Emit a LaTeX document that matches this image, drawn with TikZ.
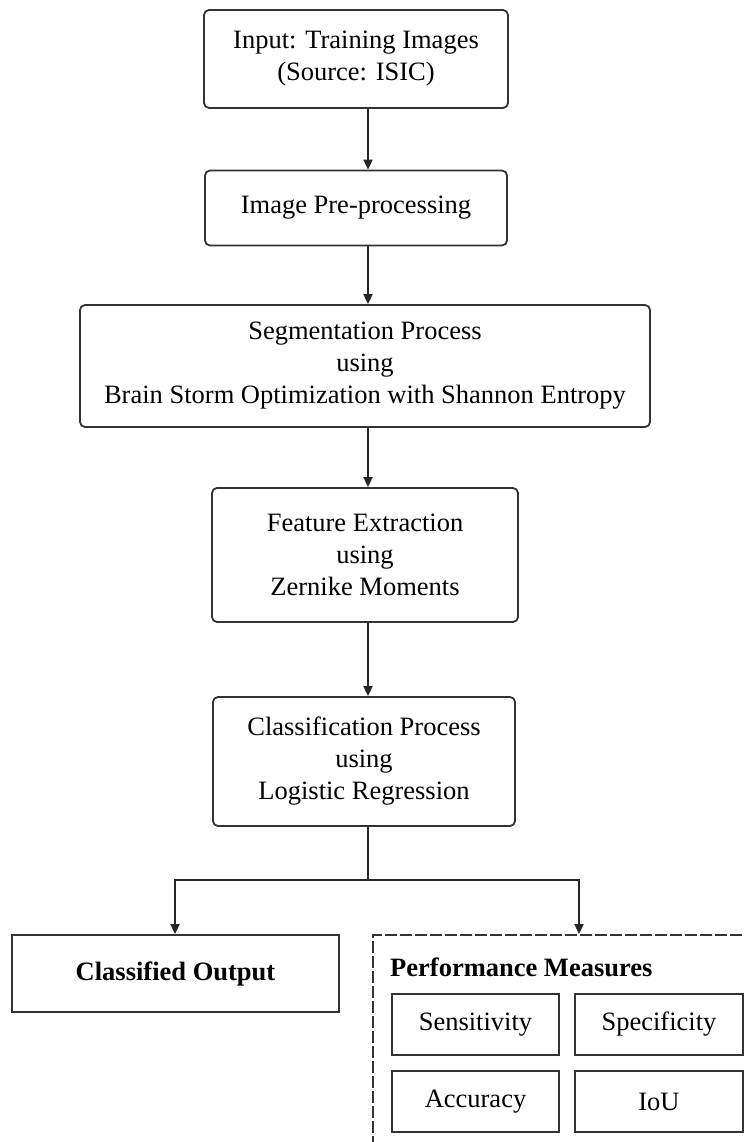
\documentclass[tikz,border=0pt]{standalone}
\usepackage{fontspec}
\setmainfont{Liberation Serif}
\usetikzlibrary{arrows.meta}
\begin{document}
\begin{tikzpicture}[x=1pt,y=-1pt,
  box/.style={draw=black!80, line width=1.8pt, rounded corners=5pt, align=center, inner sep=0pt, font=\fontsize{26.5}{32}\selectfont},
  sbox/.style={draw=black!80, line width=1.8pt, align=center, inner sep=0pt, font=\fontsize{26.5}{32}\selectfont},
  dbox/.style={draw=black!80, line width=1.8pt, dash pattern=on 12pt off 3pt, inner sep=0pt},
  arr/.style={line width=1.8pt, draw=black!85, -{Triangle[width=9pt,length=10pt]}},
  ln/.style={line width=1.8pt, draw=black!85},
  ]
\useasboundingbox (0,0) rectangle (744,1142);
\clip (0,0) rectangle (744,1142);
\fill[white] (0,0) rectangle (744,1142);
\coordinate (ax) at (368,0);
\coordinate (lx) at (175,0);
\coordinate (rx) at (579,0);

\node[box, minimum width=304pt, minimum height=98pt] (b1) at (356,59) {Input: Training Images\\(Source: ISIC)};
\node[box, minimum width=302pt, minimum height=75pt] (b2) at (356,208) {Image Pre-processing};
\node[box, minimum width=570pt, minimum height=122pt] (b3) at (365,366) {Segmentation Process\\using\\Brain Storm Optimization with Shannon Entropy};
\node[box, minimum width=306pt, minimum height=134pt] (b4) at (365,555) {Feature Extraction\\using\\Zernike Moments};
\node[box, minimum width=302pt, minimum height=129pt] (b5) at (364,761.5) {Classification Process\\using\\Logistic Regression};

\node[sbox, minimum width=327pt, minimum height=77pt, font=\fontsize{26.5}{32}\selectfont\bfseries] (co) at (175.5,973.5) {Classified Output};

\node[dbox, minimum width=387pt, minimum height=225pt] (pm) at (566.5,1047.5) {};
\node[anchor=west, inner sep=0pt, font=\fontsize{26.5}{32}\selectfont\bfseries] (pmt) at (390,967) {Performance Measures};
\node[sbox, minimum width=167pt, minimum height=61pt] (se) at (475.5,1024.5) {Sensitivity};
\node[sbox, minimum width=168pt, minimum height=61pt] (sp) at (659,1024.5) {Specificity};
\node[sbox, minimum width=167pt, minimum height=61pt] (ac) at (475.5,1101.5) {Accuracy};
\node[sbox, minimum width=168pt, minimum height=61pt] (io) at (659,1101.5) {IoU};

\draw[arr] (b1.south -| ax) -- (b2.north -| ax);
\draw[arr] (b2.south -| ax) -- (b3.north -| ax);
\draw[arr] (b3.south -| ax) -- (b4.north -| ax);
\draw[arr] (b4.south -| ax) -- (b5.north -| ax);
\coordinate (br) at (368,880);
\draw[ln] (b5.south -| ax) -- (br);
\draw[arr] (br) -| (co.north -| lx);
\draw[arr] (br) -| (pm.north -| rx);
\end{tikzpicture}
\end{document}
